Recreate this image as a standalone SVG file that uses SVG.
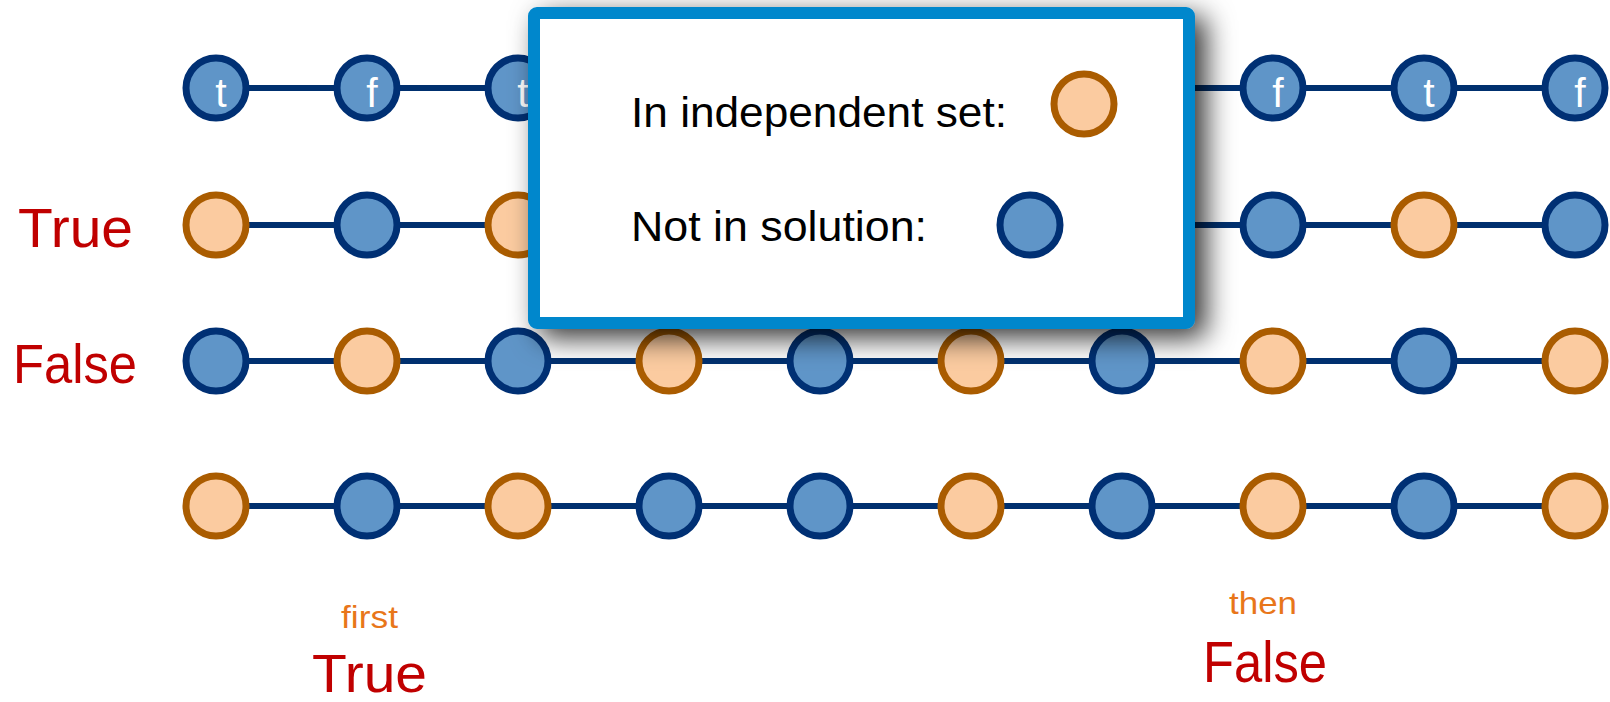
<svg xmlns="http://www.w3.org/2000/svg" width="1610" height="702" viewBox="0 0 1610 702">
<defs>
<style>
.edge{stroke:#00306f;stroke-width:6;}
.b{fill:#5f95c8;stroke:#003074;stroke-width:7;}
.o{fill:#fbcba0;stroke:#aa5c00;stroke-width:7;}
.lt{fill:#ffffff;font-family:"Liberation Sans",Arial,sans-serif;font-size:41px;text-anchor:middle;}
.red{fill:#c00000;font-family:"Liberation Sans",Arial,sans-serif;}
.org{fill:#e8761a;font-family:"Liberation Sans",Arial,sans-serif;}
.leg{fill:#000000;font-family:"Liberation Sans",Arial,sans-serif;font-size:43px;}
</style>
<filter id="sh" x="-20%" y="-30%" width="140%" height="160%">
<feGaussianBlur in="SourceAlpha" stdDeviation="14"/>
<feOffset dx="11" dy="9" result="bl"/>
<feFlood flood-color="#000000" flood-opacity="0.8"/>
<feComposite in2="bl" operator="in"/>
<feMerge><feMergeNode/><feMergeNode in="SourceGraphic"/></feMerge>
</filter>
</defs>
<rect width="1610" height="702" fill="#ffffff"/>
<g id="connectors">
<line class="edge" x1="216" y1="88" x2="1575" y2="88"/>
<line class="edge" x1="216" y1="225" x2="1575" y2="225"/>
<line class="edge" x1="216" y1="361" x2="1575" y2="361"/>
<line class="edge" x1="216" y1="506" x2="1575" y2="506"/>
</g>
<g id="row1">
<g id="r1n1"><circle class="b" cx="216" cy="88" r="30"/><text class="lt" x="221" y="107">t</text></g>
<g id="r1n2"><circle class="b" cx="367" cy="88" r="30"/><text class="lt" x="372" y="107">f</text></g>
<g id="r1n3"><circle class="b" cx="518" cy="88" r="30"/><text class="lt" x="523" y="107">t</text></g>
<g id="r1n8"><circle class="b" cx="1273" cy="88" r="30"/><text class="lt" x="1278" y="107">f</text></g>
<g id="r1n9"><circle class="b" cx="1424" cy="88" r="30"/><text class="lt" x="1429" y="107">t</text></g>
<g id="r1n10"><circle class="b" cx="1575" cy="88" r="30"/><text class="lt" x="1580" y="107">f</text></g>
</g>
<g id="row2">
<g id="r2n1"><circle class="o" cx="216" cy="225" r="30"/></g>
<g id="r2n2"><circle class="b" cx="367" cy="225" r="30"/></g>
<g id="r2n3"><circle class="o" cx="518" cy="225" r="30"/></g>
<g id="r2n8"><circle class="b" cx="1273" cy="225" r="30"/></g>
<g id="r2n9"><circle class="o" cx="1424" cy="225" r="30"/></g>
<g id="r2n10"><circle class="b" cx="1575" cy="225" r="30"/></g>
</g>
<g id="row3">
<g id="r3n1"><circle class="b" cx="216" cy="361" r="30"/></g>
<g id="r3n2"><circle class="o" cx="367" cy="361" r="30"/></g>
<g id="r3n3"><circle class="b" cx="518" cy="361" r="30"/></g>
<g id="r3n4"><circle class="o" cx="669" cy="361" r="30"/></g>
<g id="r3n5"><circle class="b" cx="820" cy="361" r="30"/></g>
<g id="r3n6"><circle class="o" cx="971" cy="361" r="30"/></g>
<g id="r3n7"><circle class="b" cx="1122" cy="361" r="30"/></g>
<g id="r3n8"><circle class="o" cx="1273" cy="361" r="30"/></g>
<g id="r3n9"><circle class="b" cx="1424" cy="361" r="30"/></g>
<g id="r3n10"><circle class="o" cx="1575" cy="361" r="30"/></g>
</g>
<g id="row4">
<g id="r4n1"><circle class="o" cx="216" cy="506" r="30"/></g>
<g id="r4n2"><circle class="b" cx="367" cy="506" r="30"/></g>
<g id="r4n3"><circle class="o" cx="518" cy="506" r="30"/></g>
<g id="r4n4"><circle class="b" cx="669" cy="506" r="30"/></g>
<g id="r4n5"><circle class="b" cx="820" cy="506" r="30"/></g>
<g id="r4n6"><circle class="o" cx="971" cy="506" r="30"/></g>
<g id="r4n7"><circle class="b" cx="1122" cy="506" r="30"/></g>
<g id="r4n8"><circle class="o" cx="1273" cy="506" r="30"/></g>
<g id="r4n9"><circle class="b" cx="1424" cy="506" r="30"/></g>
<g id="r4n10"><circle class="o" cx="1575" cy="506" r="30"/></g>
</g>
<g id="labels">
<text class="red" x="18" y="247" font-size="56" textLength="115" lengthAdjust="spacingAndGlyphs">True</text>
<text class="red" x="13" y="383" font-size="56" textLength="124" lengthAdjust="spacingAndGlyphs">False</text>
<text class="org" x="341" y="628" font-size="32" textLength="57" lengthAdjust="spacingAndGlyphs">first</text>
<text class="red" x="312" y="692" font-size="54" textLength="115" lengthAdjust="spacingAndGlyphs">True</text>
<text class="org" x="1229" y="614" font-size="32" textLength="68" lengthAdjust="spacingAndGlyphs">then</text>
<text class="red" x="1203" y="682" font-size="58" textLength="124" lengthAdjust="spacingAndGlyphs">False</text>
</g>
<g id="legend">
<rect x="534" y="13" width="655" height="310" rx="3" fill="#ffffff" stroke="#0087cc" stroke-width="12" filter="url(#sh)"/>
<text class="leg" x="631" y="127" textLength="376" lengthAdjust="spacingAndGlyphs">In independent set:</text>
<circle class="o" cx="1084" cy="104" r="30"/>
<text class="leg" x="631" y="241" textLength="296" lengthAdjust="spacingAndGlyphs">Not in solution:</text>
<circle class="b" cx="1030" cy="225" r="30"/>
</g>
</svg>
